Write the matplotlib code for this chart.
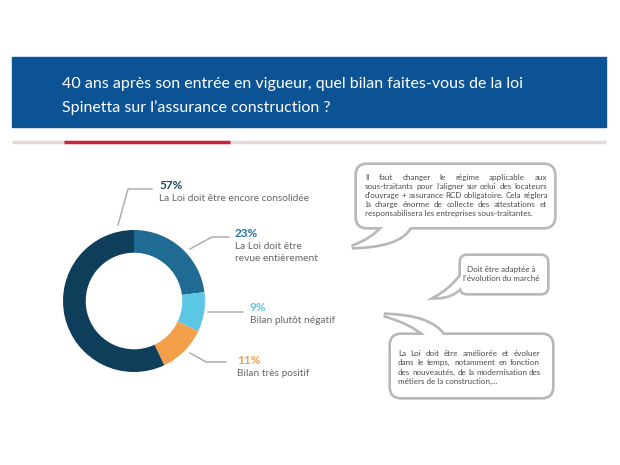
import matplotlib
matplotlib.use("Agg")
import matplotlib.pyplot as plt
from matplotlib.patches import Rectangle, FancyBboxPatch, PathPatch
from matplotlib.path import Path
from matplotlib.font_manager import FontProperties

plt.rcParams['font.family'] = ['Lato', 'DejaVu Sans']

TITLE = ["40 ans après son entrée en vigueur, quel bilan faites-vous de la loi",
         "Spinetta sur l\u2019assurance construction ?"]

# pie order: clockwise from 12 o'clock
values = [23, 9, 11, 57]
labels = [["La Loi doit être", "revue entièrement"],
          ["Bilan plutôt négatif"],
          ["Bilan très positif"],
          ["La Loi doit être encore consolidée"]]
colors = ['#1f6b93', '#5cc6e5', '#f4a04a', '#0f3e5b']
pct_colors = ['#24729c', '#5cc6e5', '#f4a04a', '#1b4660']

quote1 = ["Il faut changer le régime applicable aux",
          "sous-traitants pour l\u2019aligner sur celui des locateurs",
          "d\u2019ouvrage + assurance RCD obligatoire. Cela réglera",
          "la charge énorme de collecte des attestations et",
          "responsabilisera les entreprises sous-traitantes."]
quote2 = ["Doit être adaptée à", "l\u2019évolution du marché"]
quote3 = ["La Loi doit être améliorée et évoluer",
          "dans le temps, notamment en fonction",
          "des nouveautés, de la modernisation des",
          "métiers de la construction,..."]

fig = plt.figure(figsize=(6.2, 4.65), dpi=100)
bg = fig.add_axes([0, 0, 1, 1])
bg.set_xlim(0, 620)
bg.set_ylim(465, 0)
bg.axis('off')

# header banner
bg.add_patch(Rectangle((12, 57), 594, 70, color='#0c5395', zorder=1))
bg.text(62, 84, TITLE[0], color='white', fontsize=11.5, va='center', zorder=2)
bg.text(62, 108, TITLE[1], color='white', fontsize=11.5, va='center', zorder=2)
bg.plot([12, 606], [142, 142], color='#e3dcd8', lw=2.5, solid_capstyle='butt')
bg.plot([64, 230], [142, 142], color='#c9233f', lw=2.5, solid_capstyle='butt')

# donut
cx, cy, rad = 134, 301, 71
pie_ax = fig.add_axes([(cx - rad) / 620, (465 - cy - rad) / 465, 2 * rad / 620, 2 * rad / 465])
pie_ax.pie(values, colors=colors, startangle=90, counterclock=False,
           wedgeprops=dict(width=0.32, edgecolor='none'))
pie_ax.set_xlim(-1, 1)
pie_ax.set_ylim(-1, 1)
pie_ax.set_aspect('equal')

# labels and leader lines
label_pos = [(235, 233), (250, 307), (237, 360), (159, 185)]
leaders = [[(190, 249), (212, 237), (229, 237)],
           [(208, 312), (243, 312)],
           [(190, 353), (206, 362), (226, 362)],
           [(118, 225), (128, 189), (152, 189)]]
for v, lab, pc, (lx, ly), pts in zip(values, labels, pct_colors, label_pos, leaders):
    bg.text(lx, ly, f"{v}%", color=pc, fontsize=8.5, fontweight='bold', va='center')
    for k, line in enumerate(lab):
        bg.text(lx, ly + 13 + 12.5 * k, line, color='#666666', fontsize=7.3, va='center')
    xs, ys = zip(*pts)
    bg.plot(xs, ys, color='#b3aca6', lw=1.1)

# speech bubbles
EDGE = '#b8b8b8'
W = 1.9  # visible outline width (pt)


def bubble(x0, y0, x1, y1, r, A, c1, tip, c2, B):
    rect = dict(boxstyle=f"round,pad=0,rounding_size={r}")
    tail_open = Path([A, c1, tip, c2, B],
                     [Path.MOVETO, Path.CURVE3, Path.CURVE3, Path.CURVE3, Path.CURVE3])
    tail_closed = Path([A, c1, tip, c2, B, A],
                       [Path.MOVETO, Path.CURVE3, Path.CURVE3, Path.CURVE3, Path.CURVE3, Path.CLOSEPOLY])
    bg.add_patch(FancyBboxPatch((x0, y0), x1 - x0, y1 - y0, fc='none', ec=EDGE, lw=2 * W, zorder=3, **rect))
    bg.add_patch(PathPatch(tail_open, fill=False, ec=EDGE, lw=2 * W, zorder=3))
    bg.add_patch(FancyBboxPatch((x0, y0), x1 - x0, y1 - y0, fc='white', ec='none', zorder=4, **rect))
    bg.add_patch(PathPatch(tail_closed, fc='white', ec='none', zorder=4))


bubble(357, 165, 554, 227, 10, (383, 227), (372, 240), (352, 247), (400, 246), (410, 227))
bubble(461, 256, 547, 293, 6, (461, 276), (450, 290), (437, 297), (452, 297), (461, 287))
bubble(391, 335, 552, 397, 10, (425, 335), (410, 322), (384, 315), (430, 316), (443, 335))

renderer = fig.canvas.get_renderer()
QFONT = 5.8
QCOL = '#4a4a4a'
qprop = FontProperties(family='Lato', size=QFONT)
space_w = renderer.get_text_width_height_descent("a b", qprop, ismath=False)[0] - \
    renderer.get_text_width_height_descent("ab", qprop, ismath=False)[0]


def justified(lines, x0, x1, y0, dy):
    for i, line in enumerate(lines):
        y = y0 + i * dy
        words = line.split()
        if i == len(lines) - 1:
            bg.text(x0, y, line, fontsize=QFONT, color=QCOL, va='center', zorder=5)
            continue
        widths = [renderer.get_text_width_height_descent(w, qprop, ismath=False)[0] for w in words]
        gap = max((x1 - x0 - sum(widths)) / (len(words) - 1), space_w)
        x = x0
        for w, wd in zip(words, widths):
            bg.text(x, y, w, fontsize=QFONT, color=QCOL, va='center', zorder=5)
            x += wd + gap


justified(quote1, 365, 547, 177, 9)
justified(quote3, 398, 540, 353, 9.5)
for k, line in enumerate(quote2):
    bg.text(501, 269 + 9.5 * k, line, fontsize=QFONT, color=QCOL, va='center', ha='center', zorder=5)

fig.savefig("out.png", dpi=100)
